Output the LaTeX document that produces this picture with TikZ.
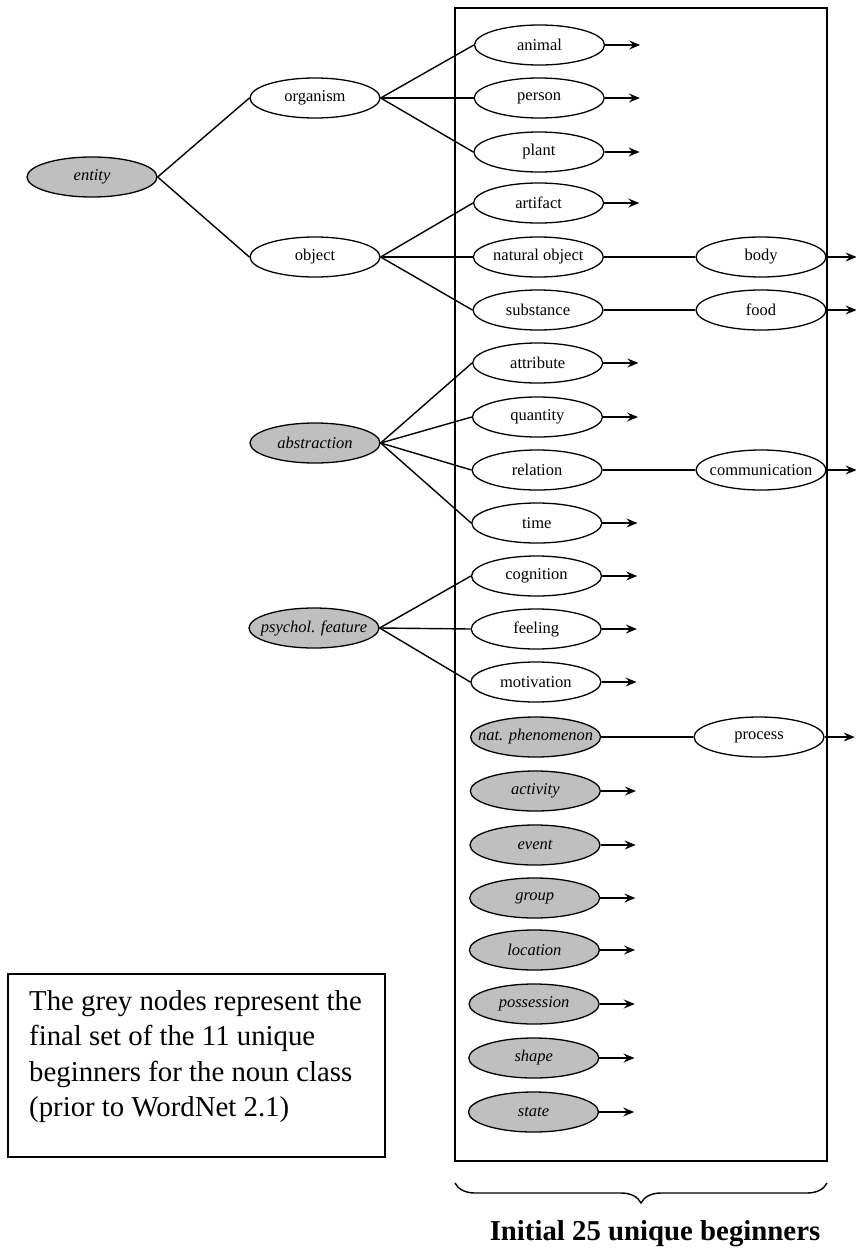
\documentclass[tikz,border=0pt]{standalone}
\usepackage{fontspec}
\setmainfont{Liberation Serif}
\usetikzlibrary{shapes.geometric,arrows.meta,decorations.pathreplacing}

% label of fixed size inside an ellipse (text does not widen the shape)
\newcommand\lbl[1]{\makebox[0pt]{#1}}

\begin{document}
\begin{tikzpicture}[x=1pt,y=-1pt,
  nd/.style={ellipse,draw,line width=1.3pt,minimum width=130pt,minimum height=40pt,
             inner sep=0pt,font=\fontsize{16.5}{18}\selectfont},
  gnd/.style={nd,fill=black!25,font=\fontsize{16.5}{18}\selectfont\itshape},
  edge/.style={line width=1.4pt},
  arr/.style={line width=1.3pt,-{Stealth[length=11pt,width=9pt,inset=4pt]}},
  note/.style={font=\fontsize{28.8}{35.5}\selectfont,anchor=base west,inner sep=0pt}
]
\useasboundingbox (0,0) rectangle (856,1250);

% frame around the top-level beginners
\draw[line width=1.7pt] (455,8) rectangle (827,1161);

% left part of the hierarchy
\node[gnd] (entity)      at (92,177)  {\lbl{entity}};
\node[nd]  (organism)    at (315,98)  {\lbl{organism}};
\node[nd]  (object)      at (315,257) {\lbl{object}};
\node[gnd] (abstraction) at (315,443) {\lbl{abstraction}};
\node[gnd] (psychol)     at (314,628) {\lbl{psychol. feature}};

% column of the 25 unique beginners
\foreach \n/\t/\s/\y [count=\i from 0] in {
  animal/animal/nd/45, person/person/nd/98, plant/plant/nd/152,
  artifact/artifact/nd/203, natobj/natural object/nd/257, substance/substance/nd/310,
  attribute/attribute/nd/363, quantity/quantity/nd/417, relation/relation/nd/470,
  time/time/nd/523, cognition/cognition/nd/576, feeling/feeling/nd/629,
  motivation/motivation/nd/682, natphen/nat. phenomenon/gnd/737,
  activity/activity/gnd/791, event/event/gnd/845, group/group/gnd/898,
  location/location/gnd/950, possession/possession/gnd/1004,
  shape/shape/gnd/1058, state/state/gnd/1112}
  \node[\s] (\n) at ({539.5-0.3*\i},\y) {\lbl{\t}};

% second-level nodes
\node[nd] (body)          at (761,257) {\lbl{body}};
\node[nd] (food)          at (761,310) {\lbl{food}};
\node[nd] (communication) at (761,470) {\lbl{communication}};
\node[nd] (process)       at (759,737) {\lbl{process}};

% tree edges
\draw[edge] (entity.east) -- (organism.west);
\draw[edge] (entity.east) -- (object.west);
\foreach \c in {animal,person,plant} \draw[edge] (organism.east) -- (\c.west);
\foreach \c in {artifact,natobj,substance} \draw[edge] (object.east) -- (\c.west);
\foreach \c in {attribute,quantity,relation,time} \draw[edge] (abstraction.east) -- (\c.west);
\foreach \c in {cognition,feeling,motivation} \draw[edge] (psychol.east) -- (\c.west);
\draw[edge] (natobj.east)   -- (body.west);
\draw[edge] (substance.east) -- (food.west);
\draw[edge] (relation.east) -- (communication.west);
\draw[edge] (natphen.east)  -- (process.west);

% continuation arrows
\foreach \n in {animal,person,plant,artifact,attribute,quantity,time,cognition,feeling,
                motivation,activity,event,group,location,possession,shape,state}
  \draw[arr] (\n.east) -- ++(35,0);
\foreach \n in {body,food,communication,process}
  \draw[arr] (\n.east) -- ++(30,0);

% legend box
\draw[line width=1.3pt] (8,974) rectangle (385,1157);
\node[note] (t1) at (29,1010)   {The grey nodes represent the};
\node[note] (t2) at (29,1045.5) {final set of the 11 unique};
\node[note] (t3) at (29,1081)   {beginners for the noun class};
\node[note] (t4) at (29,1116.5) {(prior to WordNet 2.1)};

% brace under the frame
\draw[line width=1.4pt,decorate,decoration={brace,mirror,amplitude=20pt}]
  (455,1183) -- (827,1183);
\node[anchor=base,inner sep=0pt,font=\fontsize{28.8}{34}\selectfont\bfseries]
  (caption) at (655,1240) {Initial 25 unique beginners};
\end{tikzpicture}
\end{document}
